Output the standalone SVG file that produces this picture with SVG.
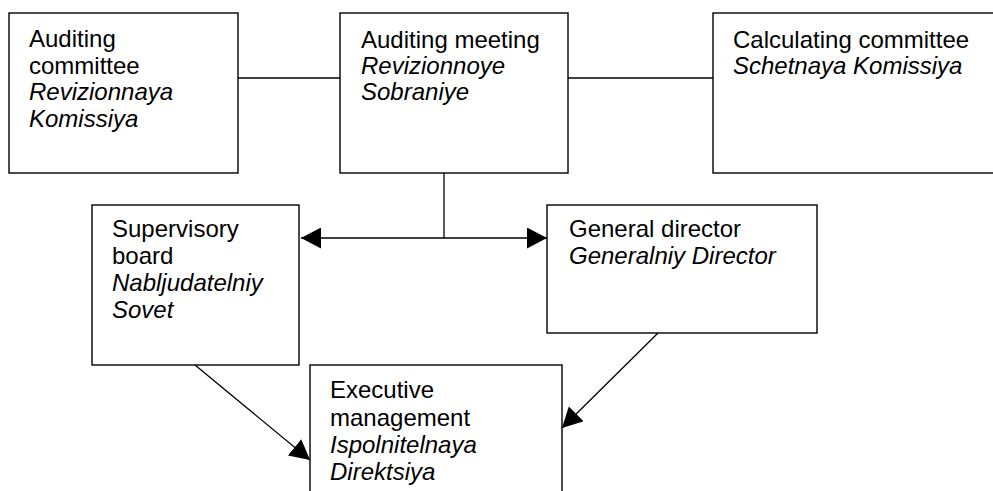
<svg xmlns="http://www.w3.org/2000/svg" width="993" height="491" viewBox="0 0 993 491">
  <style>
    .box { fill: #ffffff; stroke: #000000; stroke-width: 1.4; }
    .link { fill: none; stroke: #000000; stroke-width: 1.3; }
    text { font-family: "Liberation Sans", Arial, sans-serif; font-size: 24px; fill: #000000; }
    .it { font-style: italic; }
  </style>
  <defs>
    <marker id="head" markerUnits="userSpaceOnUse" markerWidth="20" markerHeight="21" refX="20" refY="10.5" orient="auto-start-reverse" viewBox="0 0 20 21">
      <path d="M0,0 L20,10.5 L0,21 z" fill="#000000"/>
    </marker>
  </defs>
  <rect width="993" height="491" fill="#ffffff"/>

  <g id="connectors">
    <line class="link" x1="238" y1="78" x2="340" y2="78"/>
    <line class="link" x1="568" y1="78" x2="713" y2="78"/>
    <line class="link" x1="444" y1="173" x2="444" y2="238"/>
    <line class="link" x1="301" y1="238" x2="547" y2="238" marker-start="url(#head)" marker-end="url(#head)"/>
    <line class="link" x1="195" y1="365" x2="310" y2="460" marker-end="url(#head)"/>
    <line class="link" x1="658" y1="333" x2="562" y2="428" marker-end="url(#head)"/>
  </g>

  <g id="auditing-committee">
    <rect class="box" x="9" y="13" width="229" height="160"/>
    <text x="29" y="47">Auditing</text>
    <text x="29" y="73.5">committee</text>
    <text class="it" x="29" y="100">Revizionnaya</text>
    <text class="it" x="29" y="126.5">Komissiya</text>
  </g>

  <g id="auditing-meeting">
    <rect class="box" x="340" y="13" width="228" height="160"/>
    <text x="361" y="47.5">Auditing meeting</text>
    <text class="it" x="361" y="73.5">Revizionnoye</text>
    <text class="it" x="361" y="100">Sobraniye</text>
  </g>

  <g id="calculating-committee">
    <rect class="box" x="713" y="13" width="300" height="160"/>
    <text x="733" y="47.5">Calculating committee</text>
    <text class="it" x="733" y="73.5">Schetnaya Komissiya</text>
  </g>

  <g id="supervisory-board">
    <rect class="box" x="92" y="205" width="207" height="160"/>
    <text x="112" y="237">Supervisory</text>
    <text x="112" y="264">board</text>
    <text class="it" x="112" y="291">Nabljudatelniy</text>
    <text class="it" x="112" y="318">Sovet</text>
  </g>

  <g id="general-director">
    <rect class="box" x="547" y="205" width="270" height="128"/>
    <text x="569" y="237">General director</text>
    <text class="it" x="569" y="264">Generalniy Director</text>
  </g>

  <g id="executive-management">
    <rect class="box" x="310" y="365" width="252" height="140"/>
    <text x="330" y="398">Executive</text>
    <text x="330" y="425.5">management</text>
    <text class="it" x="330" y="452.5">Ispolnitelnaya</text>
    <text class="it" x="330" y="480">Direktsiya</text>
  </g>
</svg>
